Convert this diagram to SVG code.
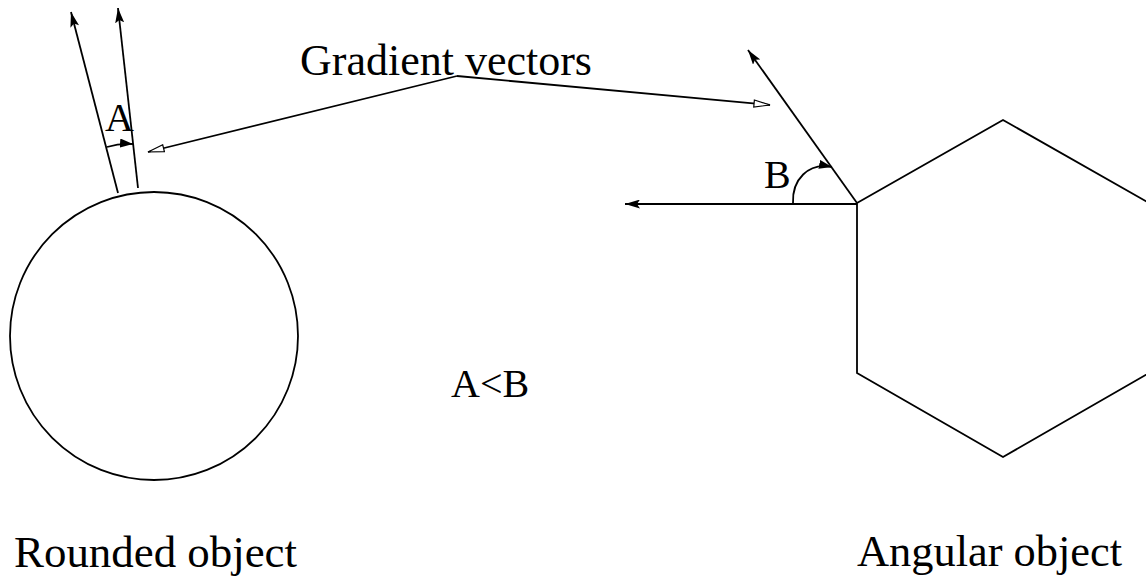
<svg xmlns="http://www.w3.org/2000/svg" width="1146" height="583" viewBox="0 0 1146 583">
<style>
.s{fill:none;stroke:#000;stroke-width:1.8}
.t{font-family:"Liberation Serif","Times New Roman",serif;fill:#000}
</style>
<defs>
<marker id="fa" markerUnits="userSpaceOnUse" viewBox="0 0 15 9" refX="15" refY="4.5" markerWidth="15" markerHeight="9" orient="auto">
<path d="M0,0 L15,4.5 L0,9 L3,4.5 z" fill="#000"/>
</marker>
<marker id="fs" markerUnits="userSpaceOnUse" viewBox="0 0 13 9" refX="13" refY="4.5" markerWidth="13" markerHeight="9" orient="auto">
<path d="M0,0 L13,4.5 L0,9 z" fill="#000"/>
</marker>
<marker id="ha" markerUnits="userSpaceOnUse" viewBox="-1 -1 18 9" refX="16" refY="3.5" markerWidth="18" markerHeight="9" orient="auto">
<path d="M0,0 L16,3.5 L0,7 z" fill="#fff" stroke="#000" stroke-width="1.2"/>
</marker>
</defs>
<rect width="1146" height="583" fill="#fff"/>
<g id="rounded">
<circle class="s" cx="154" cy="336" r="144"/>
</g>
<g id="angular">
<polygon class="s" points="857,203 1003,120 1149,203 1149,373 1003,457 857,373"/>
</g>
<g id="connectors">
<line class="s" x1="118" y1="193" x2="71" y2="12" marker-end="url(#fa)"/>
<line class="s" x1="138" y1="188" x2="118" y2="8" marker-end="url(#fa)"/>
<path class="s" d="M107,147 Q120,143 133,144" marker-end="url(#fs)"/>
<line class="s" x1="857" y1="204" x2="625" y2="204" marker-end="url(#fa)"/>
<line class="s" x1="857" y1="203" x2="748" y2="50" marker-end="url(#fa)"/>
<path class="s" d="M793,203 C792,180 808,162 832,167" marker-end="url(#fs)"/>
<polyline class="s" points="457,76 148,152" marker-end="url(#ha)"/>
<polyline class="s" points="457,76 770,105" marker-end="url(#ha)"/>
</g>
<g id="labels">
<text class="t" x="300" y="75" font-size="44">Gradient vectors</text>
<text class="t" x="105" y="131" font-size="40">A</text>
<text class="t" x="764" y="188" font-size="40">B</text>
<text class="t" x="451" y="397" font-size="40">A&lt;B</text>
<text class="t" x="14" y="567" font-size="44" textLength="283" lengthAdjust="spacingAndGlyphs">Rounded object</text>
<text class="t" x="857" y="566" font-size="44" textLength="265" lengthAdjust="spacingAndGlyphs">Angular object</text>
</g>
</svg>
